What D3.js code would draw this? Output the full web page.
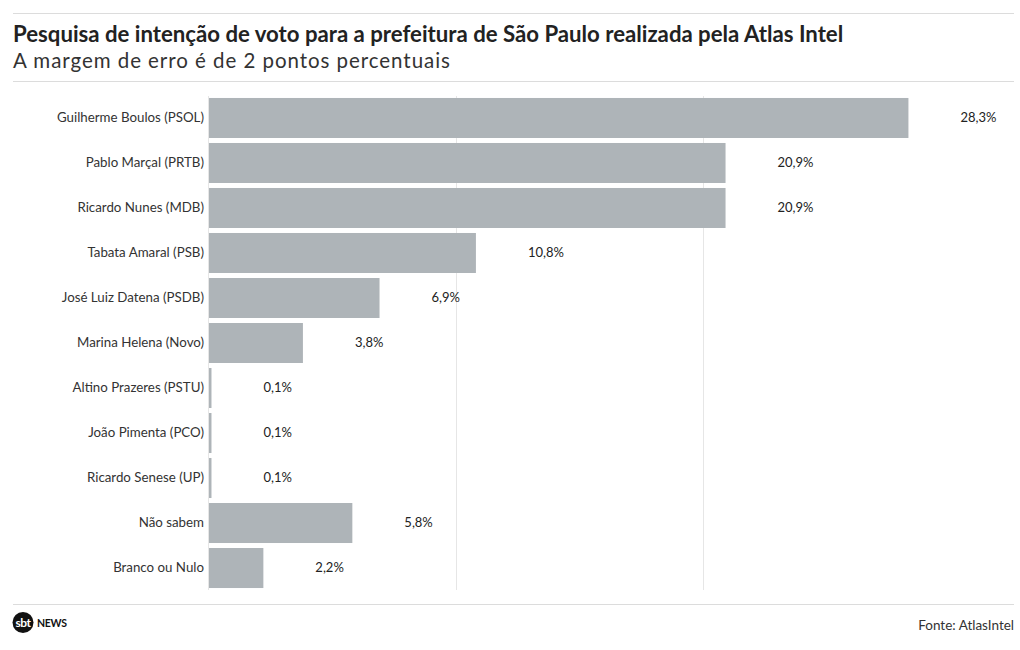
<!DOCTYPE html>
<html><head><meta charset="utf-8">
<script src="https://cdn.jsdelivr.net/npm/d3@7"></script>
<style>
body{margin:0;background:#fff;}
svg text{font-family:"Source Sans Pro","Lato","Noto Sans",sans-serif;}
</style></head>
<body><svg id="c" width="1020" height="650"></svg>
<script>
const categories = ["Guilherme Boulos (PSOL)","Pablo Marçal (PRTB)","Ricardo Nunes (MDB)","Tabata Amaral (PSB)","José Luiz Datena (PSDB)","Marina Helena (Novo)","Altino Prazeres (PSTU)","João Pimenta (PCO)","Ricardo Senese (UP)","Não sabem","Branco ou Nulo"];
const values = [28.3,20.9,20.9,10.8,6.9,3.8,0.1,0.1,0.1,5.8,2.2];
const gridTicks = [10,20];
const title = "Pesquisa de intenção de voto para a prefeitura de São Paulo realizada pela Atlas Intel";
const subtitle = "A margem de erro é de 2 pontos percentuais";
const source = "Fonte: AtlasIntel";

const svg = d3.select("#c");
const left = 209;
const x = d3.scaleLinear().domain([0, 32.45]).range([left, 1011]);
const y = d3.scaleBand().domain(categories).range([95.5, 590.5]).paddingInner(0.111).paddingOuter(0.055);

const fmt = v => d3.format(".1f")(v).replace(".", ",") + "%";

// rules
[13.5, 81.5, 604.5].forEach(yy =>
  svg.append("line").attr("x1",13).attr("x2",1014).attr("y1",yy).attr("y2",yy).attr("stroke","#dcdcdc"));

svg.append("text").attr("x",13).attr("y",42).attr("font-size",22.2).attr("font-weight",700).attr("fill","#222").text(title);
svg.append("text").attr("x",13).attr("y",68).attr("font-size",20.5).attr("fill","#333").attr("letter-spacing","0.95").text(subtitle);

// gridlines
svg.append("g").selectAll("line").data(gridTicks).join("line")
  .attr("x1",d=>Math.round(x(d))+0.5).attr("x2",d=>Math.round(x(d))+0.5)
  .attr("y1",96).attr("y2",590).attr("stroke","#e6e6e6");
svg.append("line").attr("x1",left-0.5).attr("x2",left-0.5).attr("y1",96).attr("y2",590).attr("stroke","#e6e6e6");

// bars
svg.append("g").selectAll("rect").data(values).join("rect")
  .attr("x",left).attr("y",(d,i)=>y(categories[i]))
  .attr("width",d=>Math.max(x(d)-left,2)).attr("height",y.bandwidth())
  .attr("fill","#aeb4b8");

// category labels
svg.append("g").selectAll("text").data(categories).join("text")
  .attr("x",204).attr("y",d=>y(d)+y.bandwidth()/2).attr("dy","0.3em")
  .attr("text-anchor","end").attr("font-size",13.3).attr("fill","#333").text(d=>d);

// value labels
svg.append("g").selectAll("text").data(values).join("text")
  .attr("x",d=>Math.max(x(d),left+2)+52).attr("y",(d,i)=>y(categories[i])+y.bandwidth()/2).attr("dy","0.3em")
  .attr("font-size",13).attr("fill","#222").text(d=>fmt(d));

// logo
const logo = svg.append("g");
logo.append("circle").attr("cx",23).attr("cy",622.5).attr("r",10.5).attr("fill","#111");
logo.append("text").attr("x",23).attr("y",626.5).attr("text-anchor","middle").attr("font-size",12).attr("font-weight",700).attr("fill","#fff").attr("letter-spacing","-0.5").text("sbt");
logo.append("text").attr("x",37).attr("y",627).attr("font-size",10.5).attr("font-weight",700).attr("fill","#111").attr("letter-spacing","-0.3").text("NEWS");

svg.append("text").attr("x",1014).attr("y",630).attr("text-anchor","end").attr("font-size",13.5).attr("fill","#333").text(source);
</script></body></html>
